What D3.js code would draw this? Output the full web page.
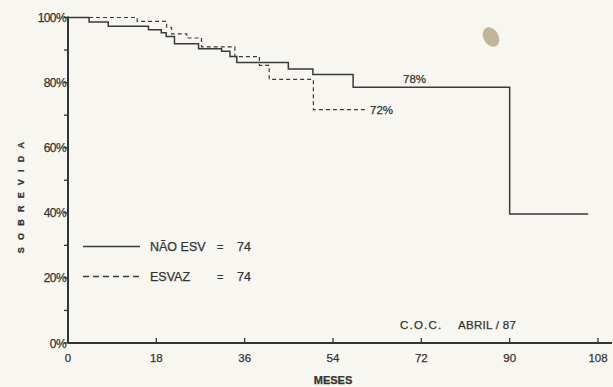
<!doctype html>
<html>
<head>
<meta charset="UTF-8">
<title>Sobrevida</title>
<script src="https://cdn.jsdelivr.net/npm/d3@7/dist/d3.min.js"></script>
<style>
    body { margin: 0; background: #f8f6f0; }
    svg { display: block; }
    text { font-family: "Liberation Sans", Arial, sans-serif; fill: #333; stroke: #333; stroke-width: 0.25px; }
</style>
</head>
<body>
<div id="chart"></div>
<script>
    var width = 613, height = 387;

    // NÃO ESV : meses / sobrevida (%)
    var naoMeses = [0, 4.3, 8.2, 16.4, 19.0, 20.0, 21.7, 26.6, 31.3, 33.0, 34.4, 44.9, 49.9, 58.1, 90, 106];
    var naoSobrev = [100, 98.6, 97.3, 96.2, 95.3, 94.2, 91.9, 90.4, 89.6, 88.0, 86.2, 84.2, 82.5, 78.6, 39.6, 39.6];

    // ESVAZ
    var esvMeses = [0, 14.1, 20.1, 21.1, 24.2, 27.2, 34.0, 39.0, 41.0, 50.0, 60.7];
    var esvSobrev = [100, 98.8, 97.0, 95.0, 93.7, 91.0, 88.0, 85.3, 81.0, 71.7, 71.7];

    var xTicks = [0, 18, 36, 54, 72, 90, 108];
    var yLabels = [0, 20, 40, 60, 80, 100];
    var yTicks = [0, 10, 20, 30, 40, 50, 60, 70, 80, 90, 100];

    var x = d3.scaleLinear().domain([0, 108]).range([68, 598]);
    var y = d3.scaleLinear().domain([0, 100]).range([343, 17.5]);

    var svg = d3.select("#chart").append("svg")
        .attr("width", width)
        .attr("height", height);

    svg.append("rect").attr("width", width).attr("height", height).attr("fill", "#f8f6f0");

    // mancha no papel
    svg.append("ellipse")
        .attr("cx", 491).attr("cy", 37).attr("rx", 7.5).attr("ry", 10.5)
        .attr("transform", "rotate(-30,491,37)")
        .attr("fill", "#b5a585").attr("opacity", 0.8);

    // eixos
    svg.append("line")
        .attr("x1", x(0)).attr("x2", 612)
        .attr("y1", y(0)).attr("y2", y(0))
        .style("stroke", "#333").style("stroke-width", 2);
    svg.append("line")
        .attr("x1", x(0)).attr("x2", x(0))
        .attr("y1", y(100) - 1).attr("y2", y(0))
        .style("stroke", "#333").style("stroke-width", 2);

    svg.selectAll(".xtick").data(xTicks.slice(1)).enter().append("line")
        .attr("x1", function (d) { return x(d); }).attr("x2", function (d) { return x(d); })
        .attr("y1", y(0)).attr("y2", y(0) - 5)
        .style("stroke", "#333").style("stroke-width", 1.3);

    svg.selectAll(".xlab").data(xTicks).enter().append("text")
        .attr("x", function (d) { return x(d); })
        .attr("y", 362)
        .attr("text-anchor", "middle")
        .style("font-size", "11.5px")
        .text(function (d) { return d; });

    svg.selectAll(".ytick").data(yTicks).enter().append("line")
        .attr("x1", x(0) - 4).attr("x2", x(0))
        .attr("y1", function (d) { return y(d); }).attr("y2", function (d) { return y(d); })
        .style("stroke", "#333").style("stroke-width", 1.3);

    svg.selectAll(".ylab").data(yLabels).enter().append("text")
        .attr("x", 66)
        .attr("y", function (d) { return y(d) + 4.5; })
        .attr("text-anchor", "end")
        .style("font-size", "12px")
        .style("letter-spacing", "-0.6px")
        .text(function (d) { return d + "%"; });

    svg.append("text")
        .attr("x", 333).attr("y", 384)
        .attr("text-anchor", "middle")
        .style("font-size", "11px")
        .style("font-weight", "bold")
        .text("MESES");

    svg.append("text")
        .attr("transform", "translate(24,194) rotate(-90)")
        .attr("text-anchor", "middle")
        .style("font-size", "9px")
        .style("font-weight", "bold")
        .style("letter-spacing", "7.2px")
        .text("SOBREVIDA");

    // curvas
    var line = d3.line()
        .x(function (d) { return x(d[0]); })
        .y(function (d) { return y(d[1]); })
        .curve(d3.curveStepAfter);

    svg.append("path")
        .datum(d3.zip(naoMeses, naoSobrev))
        .attr("d", line)
        .attr("fill", "none")
        .style("stroke", "#3a3a3a").style("stroke-width", 1.5);

    svg.append("path")
        .datum(d3.zip(esvMeses, esvSobrev))
        .attr("d", line)
        .attr("fill", "none")
        .style("stroke", "#3a3a3a").style("stroke-width", 1.2)
        .style("stroke-dasharray", "4,3");

    svg.append("text")
        .attr("x", 403).attr("y", 83)
        .style("font-size", "11.5px")
        .text("78%");
    svg.append("text")
        .attr("x", 370).attr("y", 114)
        .style("font-size", "11.5px")
        .text("72%");

    // legenda
    svg.append("line")
        .attr("x1", 83).attr("x2", 140).attr("y1", 246.5).attr("y2", 246.5)
        .style("stroke", "#3a3a3a").style("stroke-width", 1.3);
    svg.append("line")
        .attr("x1", 83).attr("x2", 140).attr("y1", 276.5).attr("y2", 276.5)
        .style("stroke", "#3a3a3a").style("stroke-width", 1.3)
        .style("stroke-dasharray", "6,4");

    var leg = [["NÃO ESV", 251], ["ESVAZ", 281]];
    leg.forEach(function (d) {
        svg.append("text").attr("x", 150).attr("y", d[1]).style("font-size", "12.5px").text(d[0]);
        svg.append("text").attr("x", 217).attr("y", d[1]).style("font-size", "11px").text("=");
        svg.append("text").attr("x", 237).attr("y", d[1]).style("font-size", "12.5px").text("74");
    });

    svg.append("text")
        .attr("x", 400).attr("y", 329)
        .style("font-size", "11.5px")
        .style("letter-spacing", "1.2px")
        .text("C.O.C.");
    svg.append("text")
        .attr("x", 458).attr("y", 329)
        .style("font-size", "11.5px")
        .style("letter-spacing", "0.3px")
        .attr("xml:space", "preserve")
        .text("ABRIL / 87");
</script>
</body>
</html>
